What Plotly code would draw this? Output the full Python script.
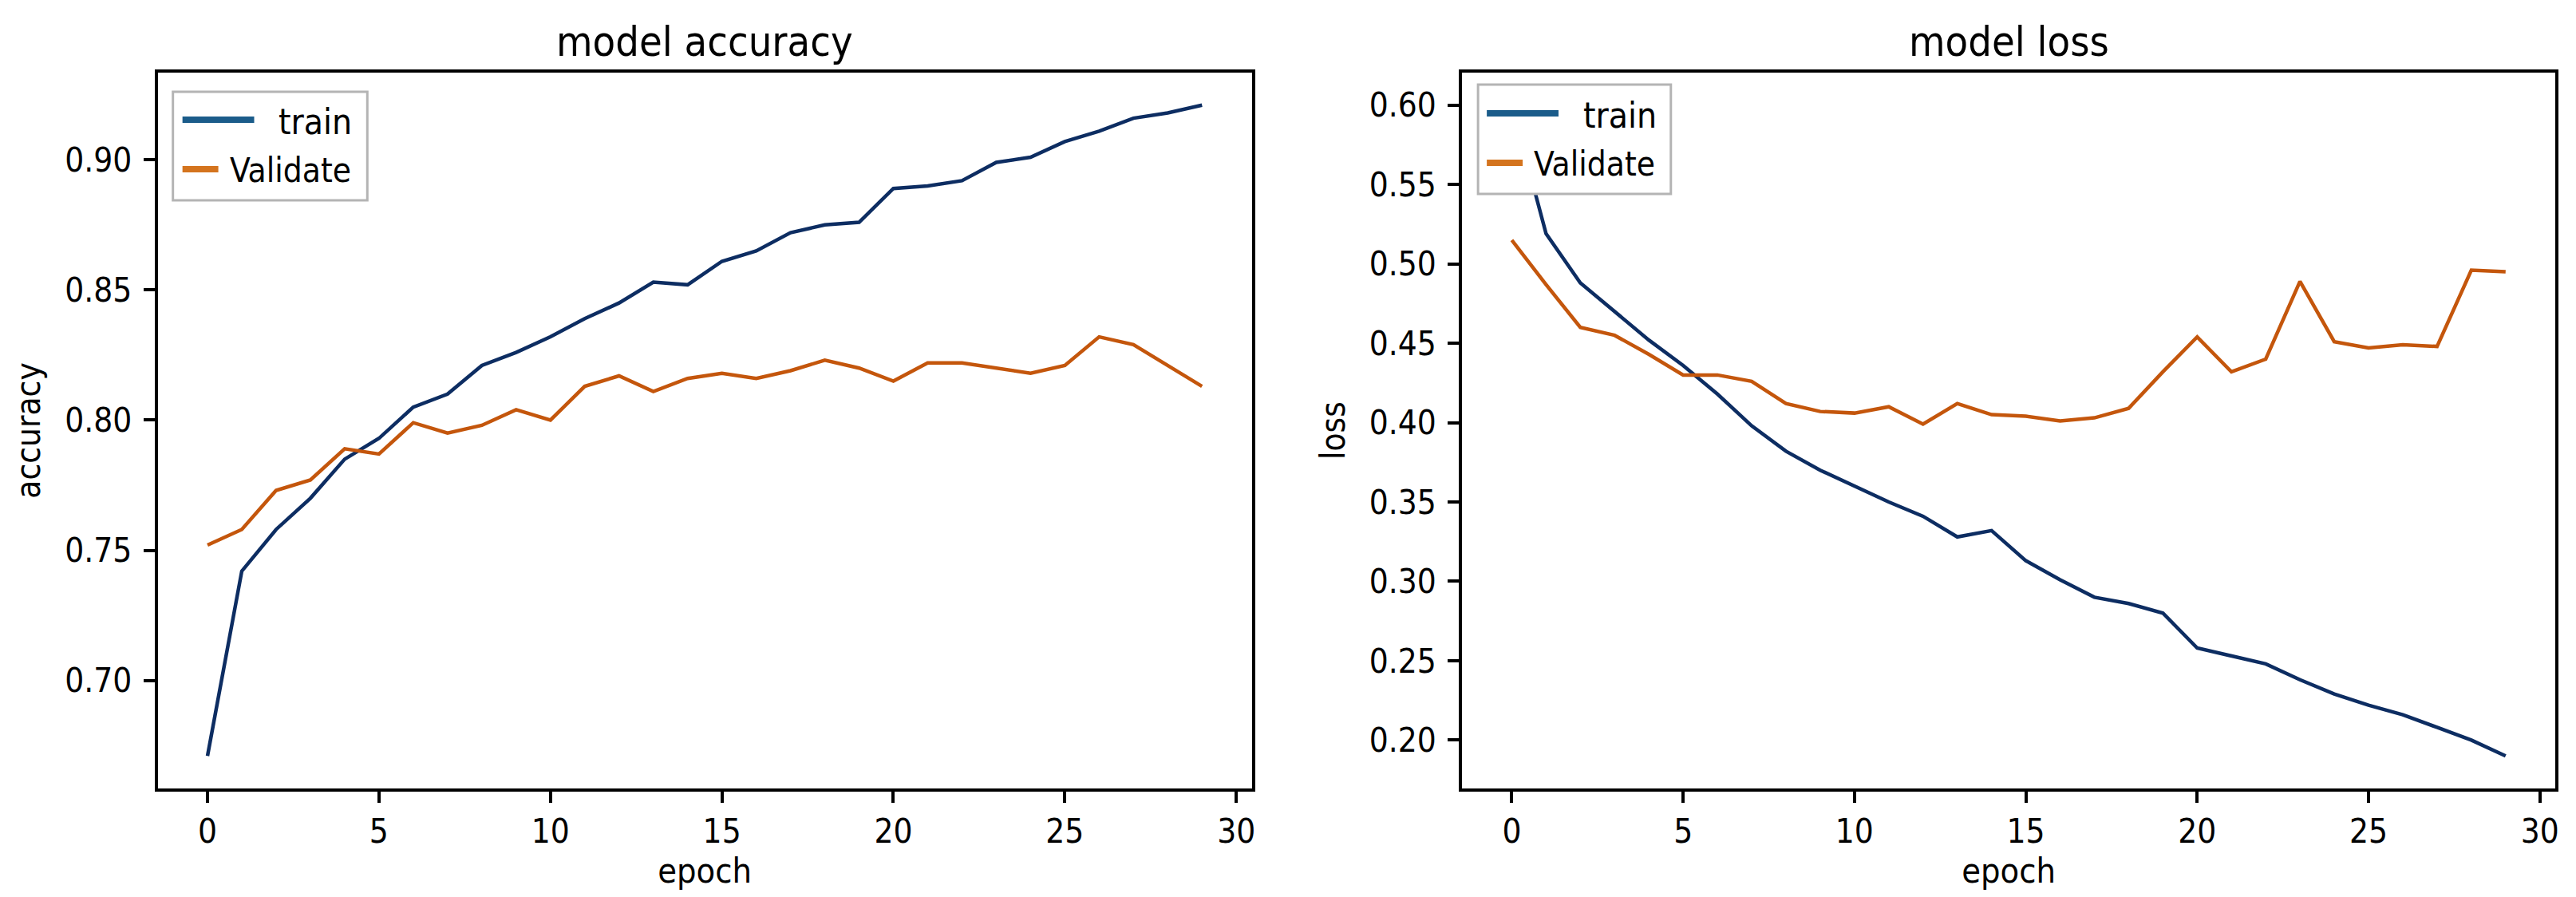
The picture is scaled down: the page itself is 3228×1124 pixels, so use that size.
import plotly.graph_objects as go

# ---------------- data ----------------
epochs = list(range(30))
train_acc = [0.671, 0.742, 0.758, 0.770, 0.785, 0.793, 0.805, 0.810, 0.821, 0.826,
             0.832, 0.839, 0.845, 0.853, 0.852, 0.861, 0.865, 0.872, 0.875, 0.876,
             0.889, 0.890, 0.892, 0.899, 0.901, 0.907, 0.911, 0.916, 0.918, 0.921]
val_acc = [0.752, 0.758, 0.773, 0.777, 0.789, 0.787, 0.799, 0.795, 0.798, 0.804,
           0.800, 0.813, 0.817, 0.811, 0.816, 0.818, 0.816, 0.819, 0.823, 0.820,
           0.815, 0.822, 0.822, 0.820, 0.818, 0.821, 0.832, 0.829, 0.821, 0.813]
train_loss = [0.600, 0.519, 0.488, 0.470, 0.452, 0.436, 0.418, 0.398, 0.382, 0.370,
              0.360, 0.350, 0.341, 0.328, 0.332, 0.313, 0.301, 0.290, 0.286, 0.280,
              0.258, 0.253, 0.248, 0.238, 0.229, 0.222, 0.216, 0.208, 0.200, 0.190]
val_loss = [0.515, 0.487, 0.460, 0.455, 0.443, 0.430, 0.430, 0.426, 0.412, 0.407,
            0.406, 0.410, 0.399, 0.412, 0.405, 0.404, 0.401, 0.403, 0.409, 0.432,
            0.454, 0.432, 0.440, 0.489, 0.451, 0.447, 0.449, 0.448, 0.496, 0.495]

titles = ["model accuracy", "model loss"]
ylabels = ["accuracy", "loss"]
xlabel = "epoch"
legend_names = ["train", "Validate"]
x_ticks = [0, 5, 10, 15, 20, 25, 30]
acc_ticks = [0.70, 0.75, 0.80, 0.85, 0.90]
loss_ticks = [0.20, 0.25, 0.30, 0.35, 0.40, 0.45, 0.50, 0.55, 0.60]

# ---------------- style ----------------
W, H = 3228, 1124
BLUE = "#0d2d62"
ORANGE = "#c4560c"
LEG_BLUE = "#1b5c8a"
LEG_ORANGE = "#d4741e"
FONT = "DejaVu Sans Condensed, Liberation Sans Narrow, DejaVu Sans"


def px(x):
    return x / W


def py(y):
    return 1 - y / H


def auto_range(*series):
    lo = min(min(s) for s in series)
    hi = max(max(s) for s in series)
    pad = 0.05 * (hi - lo)
    return [lo - pad, hi + pad]


fig = go.Figure()

fig.add_trace(go.Scatter(x=epochs, y=train_acc, mode="lines", name="train",
                         line=dict(color=BLUE, width=4.5), xaxis="x", yaxis="y",
                         showlegend=False))
fig.add_trace(go.Scatter(x=epochs, y=val_acc, mode="lines", name="Validate",
                         line=dict(color=ORANGE, width=4.5), xaxis="x", yaxis="y",
                         showlegend=False))
fig.add_trace(go.Scatter(x=epochs, y=train_loss, mode="lines", name="train",
                         line=dict(color=BLUE, width=4.5), xaxis="x2", yaxis="y2",
                         showlegend=False))
fig.add_trace(go.Scatter(x=epochs, y=val_loss, mode="lines", name="Validate",
                         line=dict(color=ORANGE, width=4.5), xaxis="x2", yaxis="y2",
                         showlegend=False))

xr = auto_range(epochs)
axis_common = dict(showline=True, mirror=True, linecolor="black", linewidth=4,
                   ticks="outside", ticklen=14, tickwidth=4, tickcolor="black",
                   showgrid=False, zeroline=False,
                   tickfont=dict(family=FONT, size=42, color="black"))

dom_y = [py(980), py(83)]
fig.update_layout(
    width=W, height=H,
    margin=dict(l=0, r=0, t=0, b=0),
    paper_bgcolor="white", plot_bgcolor="white",
    font=dict(family=FONT, color="black"),
    xaxis=dict(domain=[px(190), px(1563)], range=xr, tickvals=x_ticks,
               title=dict(text=xlabel, font=dict(family=FONT, size=43), standoff=2),
               anchor="y", **axis_common),
    yaxis=dict(domain=dom_y, range=auto_range(train_acc, val_acc), tickvals=acc_ticks,
               tickformat=".2f", ticklabelstandoff=6,
               title=dict(text=ylabels[0], font=dict(family=FONT, size=42), standoff=18),
               anchor="x", **axis_common),
    xaxis2=dict(domain=[px(1827), px(3199)], range=xr, tickvals=x_ticks,
                title=dict(text=xlabel, font=dict(family=FONT, size=43), standoff=2),
                anchor="y2", **axis_common),
    yaxis2=dict(domain=dom_y, range=auto_range(train_loss, val_loss), tickvals=loss_ticks,
                tickformat=".2f", ticklabelstandoff=6,
                title=dict(text=ylabels[1], font=dict(family=FONT, size=42), standoff=18),
                anchor="x2", **axis_common),
)

# titles
for cx, t in [((190 + 1563) / 2, titles[0]), ((1827 + 3199) / 2, titles[1])]:
    fig.add_annotation(x=px(cx), y=py(44), xref="paper", yref="paper",
                       text=t, showarrow=False, xanchor="center", yanchor="middle",
                       font=dict(family=FONT, size=52, color="black"))

# legends (one per panel, upper-left)
legend_specs = [
    dict(bx0=209, bx1=453, by0=107, by1=243, ty=142, vy=204, sx=221,
         ttx=340, vtx=278),
    dict(bx0=1847, bx1=2089, by0=98, by1=235, ty=134, vy=196, sx=1858,
         ttx=1977, vtx=1915),
]
for s in legend_specs:
    fig.add_shape(type="rect", xref="paper", yref="paper",
                  x0=px(s["bx0"]), x1=px(s["bx1"]), y0=py(s["by1"]), y1=py(s["by0"]),
                  line=dict(color="#b4b4b4", width=3), fillcolor="white", layer="above")
    fig.add_shape(type="line", xref="paper", yref="paper",
                  x0=px(s["sx"]), x1=px(s["sx"] + 90), y0=py(s["ty"]), y1=py(s["ty"]),
                  line=dict(color=LEG_BLUE, width=8), layer="above")
    fig.add_shape(type="line", xref="paper", yref="paper",
                  x0=px(s["sx"]), x1=px(s["sx"] + 45), y0=py(s["vy"]), y1=py(s["vy"]),
                  line=dict(color=LEG_ORANGE, width=8), layer="above")
    fig.add_annotation(x=px(s["ttx"]), y=py(s["ty"] + 2), xref="paper", yref="paper",
                       text=legend_names[0], showarrow=False, xanchor="left",
                       yanchor="middle", font=dict(family=FONT, size=44, color="black"))
    fig.add_annotation(x=px(s["vtx"]), y=py(s["vy"] + 1), xref="paper", yref="paper",
                       text=legend_names[1], showarrow=False, xanchor="left",
                       yanchor="middle", font=dict(family=FONT, size=42, color="black"))

fig.write_html("out.html")
